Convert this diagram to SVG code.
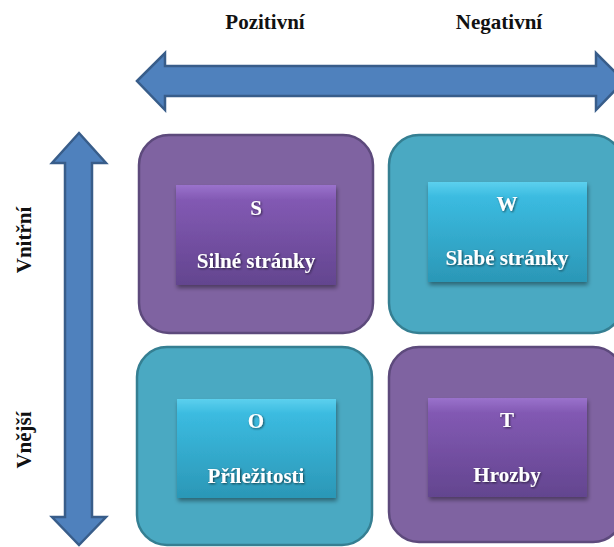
<svg xmlns="http://www.w3.org/2000/svg" width="614" height="547" viewBox="0 0 614 547">
<defs>
<linearGradient id="gP" x1="0" y1="0" x2="0" y2="1">
<stop offset="0" stop-color="#9a72cc"/><stop offset="0.15" stop-color="#8259b3"/><stop offset="1" stop-color="#63458f"/>
</linearGradient>
<linearGradient id="gT" x1="0" y1="0" x2="0" y2="1">
<stop offset="0" stop-color="#5cd0ee"/><stop offset="0.15" stop-color="#3bbbe0"/><stop offset="1" stop-color="#2b97b6"/>
</linearGradient>
<filter id="sh" x="-10%" y="-10%" width="130%" height="140%">
<feDropShadow dx="1" dy="3" stdDeviation="2" flood-color="#000" flood-opacity="0.4"/>
</filter>
<filter id="tsh" x="-10%" y="-20%" width="130%" height="150%">
<feDropShadow dx="1" dy="1" stdDeviation="0.8" flood-color="#000" flood-opacity="0.6"/>
</filter>
</defs>
<style>
.arrow{fill:#4f81bd;stroke:#385d8a;stroke-width:2.5;stroke-linejoin:miter}
.oP{fill:#7f63a1;stroke:#5d4a7c;stroke-width:2.5}
.oT{fill:#4aa9c2;stroke:#357f92;stroke-width:2.5}
.iP{fill:url(#gP);filter:url(#sh)}
.iT{fill:url(#gT);filter:url(#sh)}
.lbl{font-weight:bold;font-size:21px;fill:#111}
.t{font-weight:bold;font-size:21px;fill:#fff;text-anchor:middle;filter:url(#tsh)}
</style>
<g id="labels" font-family="Liberation Serif, DejaVu Serif, serif">
<text class="lbl" x="265" y="29" text-anchor="middle">Pozitivní</text>
<text class="lbl" x="499" y="29" text-anchor="middle">Negativní</text>
<text class="lbl" transform="translate(31 240) rotate(-90)" text-anchor="middle">Vnitřní</text>
<text class="lbl" transform="translate(31 440) rotate(-90)" text-anchor="middle">Vnější</text>
</g>
<g id="connectors">
<path class="arrow" d="M137,81 L165,53 L165,66 L596,66 L596,53 L624,81 L596,110 L596,96 L165,96 L165,110 Z"/>
<path class="arrow" d="M79,133 L106,163 L92,163 L92,517 L106,517 L79,545 L52,517 L65,517 L65,163 L52,163 Z"/>
</g>
<g id="S" font-family="Liberation Serif, DejaVu Serif, serif">
<rect class="oP" x="139" y="135" width="234" height="198" rx="30"/>
<rect class="iP" x="176" y="185" width="160" height="100"/>
<text class="t" x="256" y="215">S</text>
<text class="t" x="256" y="268">Silné stránky</text>
</g>
<g id="W" font-family="Liberation Serif, DejaVu Serif, serif">
<rect class="oT" x="389" y="135" width="234" height="198" rx="30"/>
<rect class="iT" x="428" y="182" width="159" height="100"/>
<text class="t" x="507" y="211">W</text>
<text class="t" x="507" y="265">Slabé stránky</text>
</g>
<g id="O" font-family="Liberation Serif, DejaVu Serif, serif">
<rect class="oT" x="137" y="347" width="235" height="198" rx="30"/>
<rect class="iT" x="177" y="399" width="159" height="99"/>
<text class="t" x="256" y="428">O</text>
<text class="t" x="256" y="483">Příležitosti</text>
</g>
<g id="T" font-family="Liberation Serif, DejaVu Serif, serif">
<rect class="oP" x="389" y="347" width="234" height="195" rx="30"/>
<rect class="iP" x="428" y="398" width="159" height="99"/>
<text class="t" x="507" y="427">T</text>
<text class="t" x="507" y="482">Hrozby</text>
</g>
</svg>
